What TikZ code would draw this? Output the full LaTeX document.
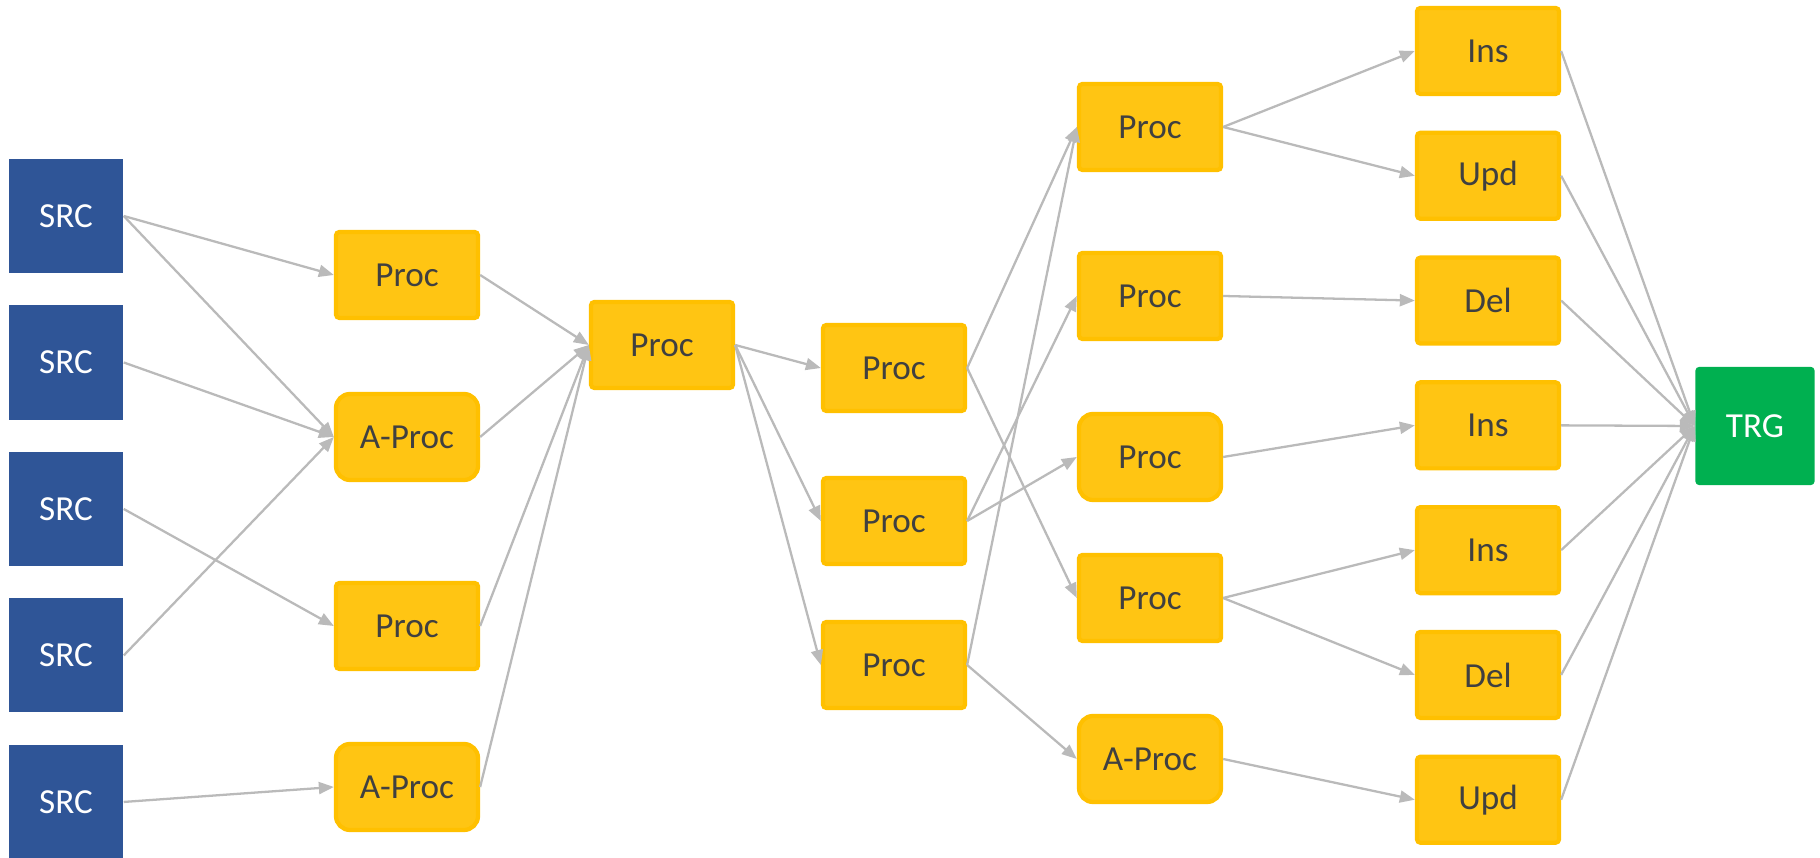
\documentclass[tikz,border=0pt]{standalone}
\usepackage{fontspec}
\setmainfont{Carlito}
\usetikzlibrary{arrows.meta, positioning}

\definecolor{srcblue}{HTML}{2F5597}
\definecolor{procyellow}{HTML}{FFC000}
\definecolor{procfill}{HTML}{FFC513}
\definecolor{trggreen}{HTML}{00B050}
\definecolor{edgegray}{HTML}{BABABA}
\definecolor{labelgray}{HTML}{404040}

\begin{document}
\begin{tikzpicture}[x=0.01cm, y=0.01cm, >={Triangle[length=0.15cm, width=0.12cm]}, font=\fontsize{10}{12}\selectfont]

% Styles
\tikzstyle{src} = [rectangle, minimum width=1.14cm, minimum height=1.14cm, fill=srcblue, text=white]
\tikzstyle{proc} = [rectangle, rounded corners=1pt, minimum width=1.42cm, minimum height=0.86cm, draw=procyellow, line width=1.2pt, fill=procfill, text=labelgray]
\tikzstyle{aproc} = [proc, rounded corners=4pt]
\tikzstyle{trg} = [rectangle, rounded corners=1pt, minimum width=1.19cm, minimum height=1.18cm, fill=trggreen, text=white]
\tikzstyle{arrow} = [edgegray, line width=0.65pt, ->]

\useasboundingbox (0,0) rectangle (1820,858);

% --- Nodes ---

% 1. Sources
\node (src1) [src] at (66, 642) {SRC};
\node (src2) [src, below=0.31cm of src1] {SRC};
\node (src3) [src, below=0.31cm of src2] {SRC};
\node (src4) [src, below=0.31cm of src3] {SRC};
\node (src5) [src, below=0.31cm of src4] {SRC};

% 2. First processing stage
\node (proc1) [proc] at (407, 583) {Proc};
\node (aproc1) [aproc] at (407, 421) {A-Proc};
\node (proc2) [proc] at (407, 232) {Proc};
\node (aproc2) [aproc] at (407, 71) {A-Proc};

% 3. Merge
\node (merge) [proc] at (662, 513) {Proc};

% 4. Split
\node (split1) [proc] at (894, 490) {Proc};
\node (split2) [proc] at (894, 337) {Proc};
\node (split3) [proc] at (894, 193) {Proc};

% 5. Second processing stage
\node (stage1) [proc] at (1150, 731) {Proc};
\node (stage2) [proc] at (1150, 562) {Proc};
\node (stage3) [aproc] at (1150, 401) {Proc};
\node (stage4) [proc] at (1150, 260) {Proc};
\node (astage) [aproc] at (1150, 99) {A-Proc};

% 6. Operations
\node (ins1) [proc] at (1488, 807) {Ins};
\node (upd1) [proc, below=0.345cm of ins1] {Upd};
\node (del1) [proc, below=0.345cm of upd1] {Del};
\node (ins2) [proc, below=0.345cm of del1] {Ins};
\node (ins3) [proc, below=0.345cm of ins2] {Ins};
\node (del2) [proc, below=0.345cm of ins3] {Del};
\node (upd2) [proc, below=0.345cm of del2] {Upd};

% 7. Target
\node (trg) [trg] at (1755, 432) {TRG};

% --- Arrows ---
\draw[arrow] (src1.east) -- (proc1.west);
\draw[arrow] (src1.east) -- (aproc1.west);
\draw[arrow] (src2.east) -- (aproc1.west);
\draw[arrow] (src3.east) -- (proc2.west);
\draw[arrow] (src4.east) -- (aproc1.west);
\draw[arrow] (src5.east) -- (aproc2.west);

\draw[arrow] (proc1.east) -- (merge.west);
\draw[arrow] (aproc1.east) -- (merge.west);
\draw[arrow] (proc2.east) -- (merge.west);
\draw[arrow] (aproc2.east) -- (merge.west);

\draw[arrow] (merge.east) -- (split1.west);
\draw[arrow] (merge.east) -- (split2.west);
\draw[arrow] (merge.east) -- (split3.west);

\draw[arrow] (split1.east) -- (stage1.west);
\draw[arrow] (split1.east) -- (stage4.west);
\draw[arrow] (split2.east) -- (stage2.west);
\draw[arrow] (split2.east) -- (stage3.west);
\draw[arrow] (split3.east) -- (stage1.west);
\draw[arrow] (split3.east) -- (astage.west);

\draw[arrow] (stage1.east) -- (ins1.west);
\draw[arrow] (stage1.east) -- (upd1.west);
\draw[arrow] (stage2.east) -- (del1.west);
\draw[arrow] (stage3.east) -- (ins2.west);
\draw[arrow] (stage4.east) -- (ins3.west);
\draw[arrow] (stage4.east) -- (del2.west);
\draw[arrow] (astage.east) -- (upd2.west);

% --- Into target ---
\draw[arrow] (ins1.east) -- (trg.west);
\draw[arrow] (upd1.east) -- (trg.west);
\draw[arrow] (del1.east) -- (trg.west);
\draw[arrow] (ins2.east) -- (trg.west);
\draw[arrow] (ins3.east) -- (trg.west);
\draw[arrow] (del2.east) -- (trg.west);
\draw[arrow] (upd2.east) -- (trg.west);

\end{tikzpicture}
\end{document}
